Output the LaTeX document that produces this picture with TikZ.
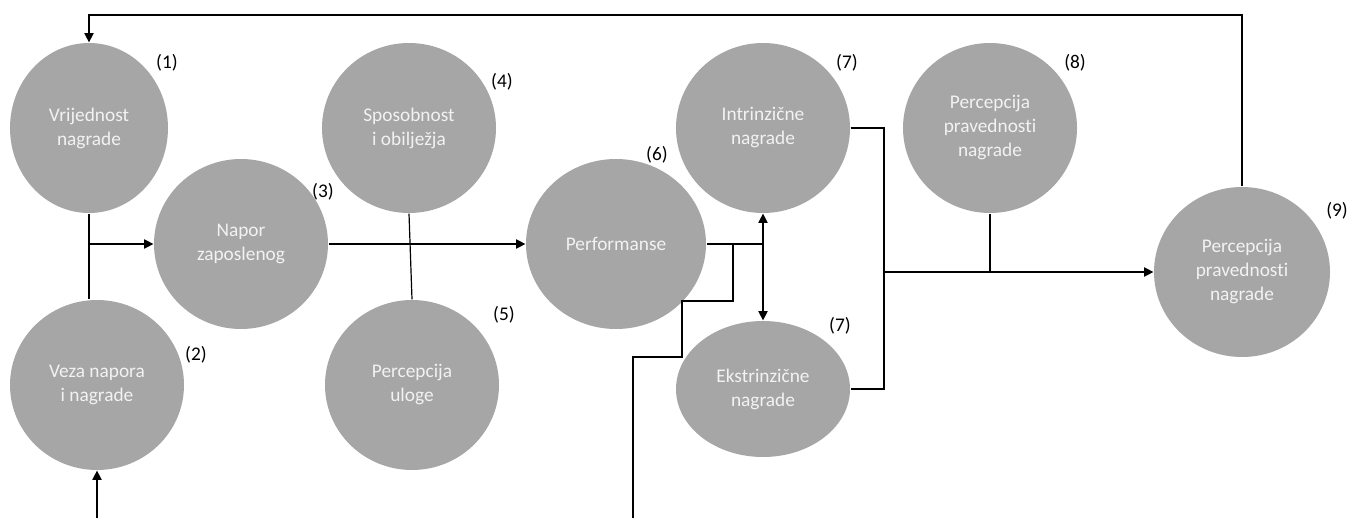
\documentclass[tikz,border=0pt]{standalone}
\usepackage{fontspec}
\setmainfont{Carlito}[Ligatures=NoCommon]
\usetikzlibrary{shapes.geometric,arrows.meta}
\definecolor{circgray}{HTML}{A6A6A6}
\definecolor{circtext}{HTML}{F2F2F2}

\begin{document}
\begin{tikzpicture}[x=0.75pt,y=0.75pt,yscale=-1,xscale=1,
  circ/.style={ellipse,fill=circgray,inner sep=0pt,text=circtext,align=center,
    minimum width=130.5pt,minimum height=127.5pt,font=\fontsize{14.5}{18}\selectfont},
  numlabel/.style={inner sep=0.75pt,font=\fontsize{14.5}{18}\selectfont},
  arr/.style={-{Triangle[length=7pt,width=7pt]}},
  line width=0.9pt]
\useasboundingbox (0,0) rectangle (1349,518);

%Ellipses
\node [circ, minimum width=118.5pt] (vrij) at (89,128) {Vrijednost\\nagrade};
\node [circ] (veza) at (97,385) {Veza napora\\i nagrade};
\node [circ] (napor) at (241,244) {Napor\\zaposlenog};
\node [circ] (spos) at (409,128) {Sposobnost\\i obilježja};
\node [circ] (ulog) at (412,385) {Percepcija\\uloge};
\node [circ, minimum width=135pt] (perf) at (616,244) {Performanse};
\node [circ] (intr) at (763,128) {Intrinzične\\nagrade};
\node [circ, minimum height=102pt] (ekst) at (763,389) {Ekstrinzične\\nagrade};
\node [circ] (prav) at (990,128) {Percepcija\\pravednosti\\nagrade};
\node [circ, minimum width=132pt] (zad) at (1242,272) {Percepcija\\pravednosti\\nagrade};

% Text Node
\node [numlabel] (n1) at (167,63) {(1)};
\node [numlabel] (n2) at (196,355) {(2)};
\node [numlabel] (n3) at (323,192) {(3)};
\node [numlabel] (n4) at (502,82) {(4)};
\node [numlabel] (n5) at (504,315) {(5)};
\node [numlabel] (n6) at (657,155) {(6)};
\node [numlabel] (n7a) at (847,63) {(7)};
\node [numlabel] (n7b) at (840,326) {(7)};
\node [numlabel] (n8) at (1075,63) {(8)};
\node [numlabel] (n9) at (1337,211) {(9)};

%Helper points
\coordinate (ulaz) at (97,518);
\coordinate (vrh) at (0,15);
\coordinate (grana) at (733,245);
\coordinate (kb) at (682,301);
\coordinate (kc) at (633,357);
\coordinate (kd) at (633,518);
\coordinate (desno) at (884,272);

%Straight Lines
\draw (vrij.south) -- (vrij.south |- veza.north);
\draw [arr] (vrij.south |- napor.west) -- (napor.west);
\draw [arr] (ulaz) -- (veza.south);
\draw (spos.south) -- (ulog.north);
\draw [arr] (napor.east) -- (perf.west);
\draw (perf.east) -- (intr.south |- perf.east);
\draw [arr] (intr.south |- perf.east) -- (intr.south);
\draw [arr] (intr.south |- perf.east) -- (ekst.north);
\draw (grana) |- (kb) |- (kc) -- (kd);
\draw (intr.east) -| (desno) |- (ekst.east);
\draw [arr] (desno) -- (zad.west);
\draw (prav.south) -- (prav.south |- desno);
\draw [arr] (zad.north) -- (zad.north |- vrh) -| (vrij.north);
\end{tikzpicture}
\end{document}
